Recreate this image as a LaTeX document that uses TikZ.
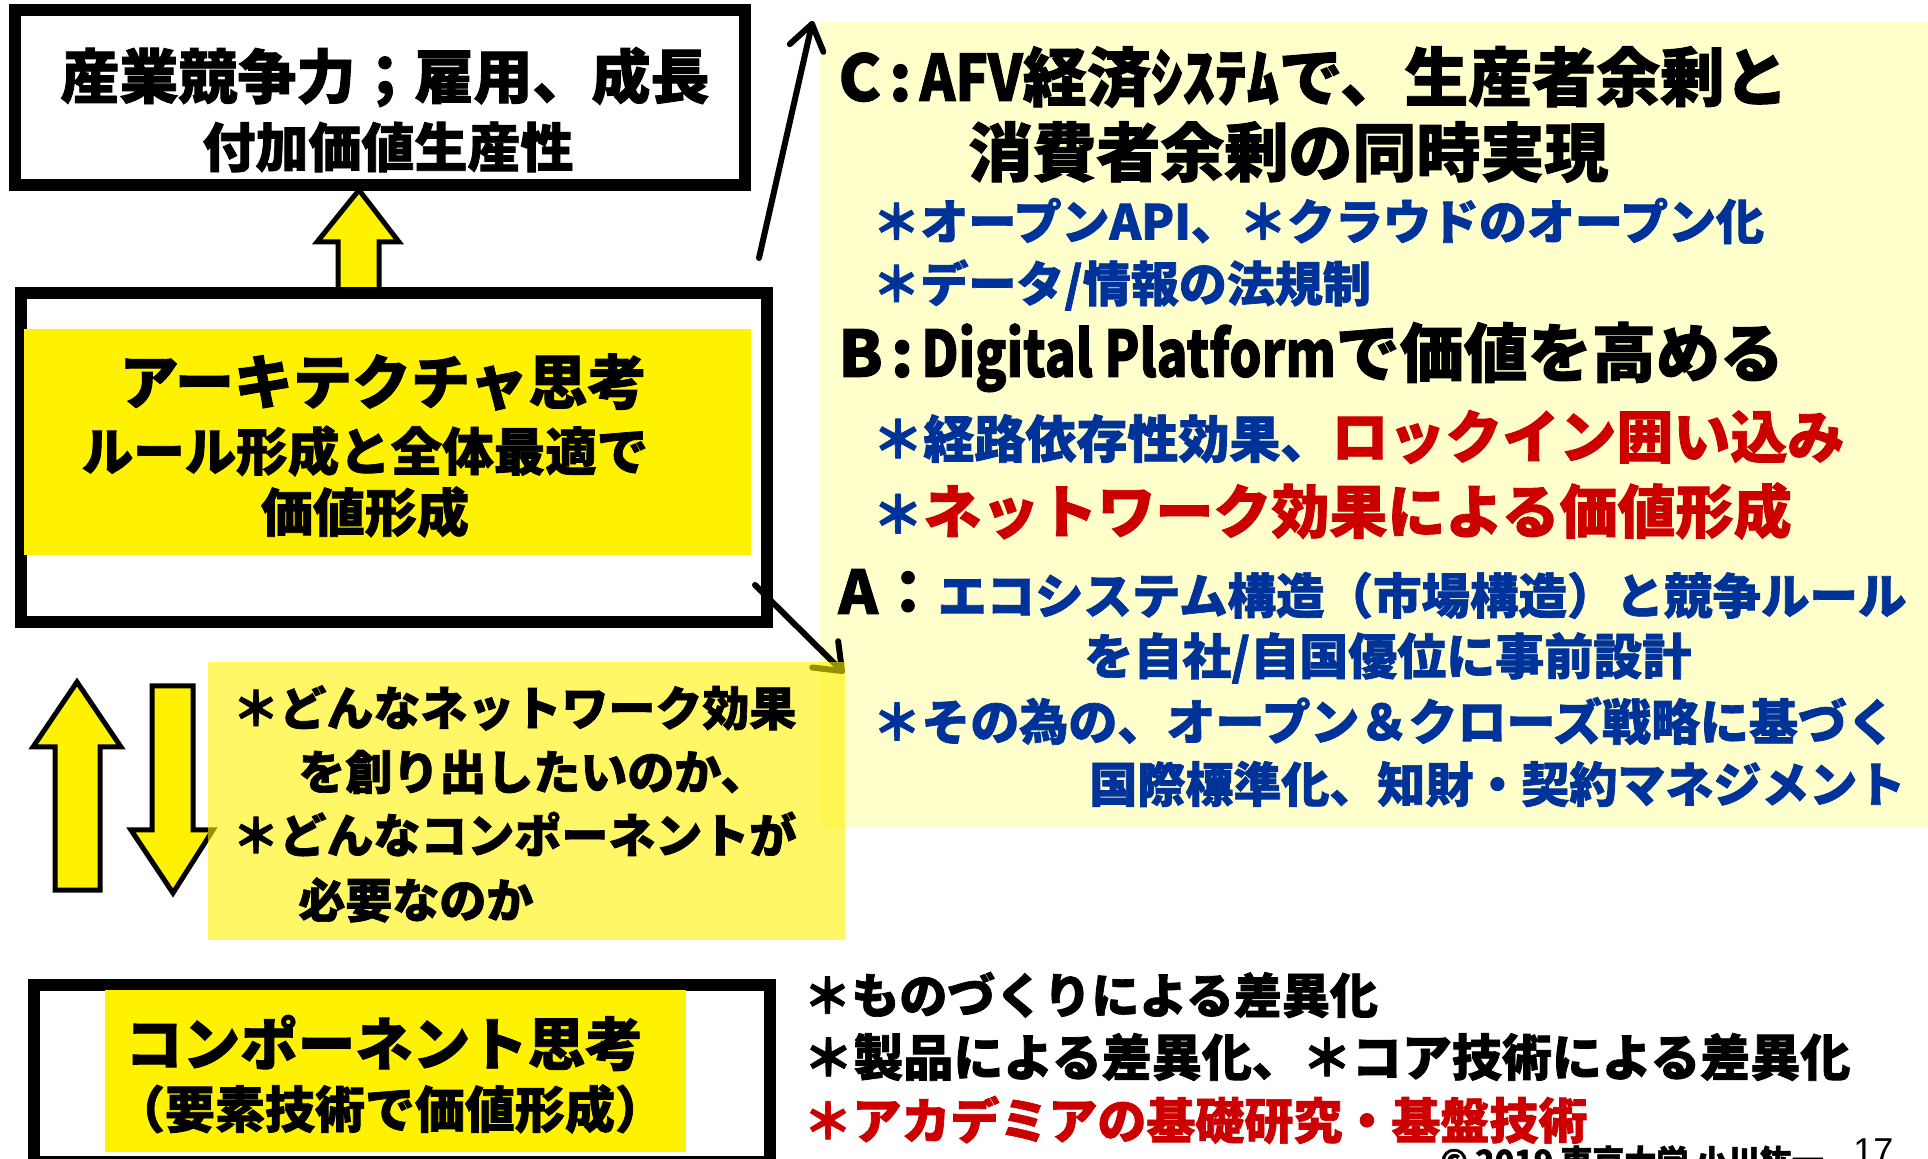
\documentclass[tikz,border=0pt]{standalone}
\usepackage{fontspec}
\usepackage{graphicx}
\usetikzlibrary{calc}
\setmainfont{Noto Sans CJK JP}[BoldFeatures={FakeBold=1.5}]
\newfontfamily\latf{Liberation Sans}
\definecolor{jblue}{RGB}{0,51,153}
\definecolor{jred}{RGB}{204,0,0}
\definecolor{pale}{RGB}{255,255,204}
\newcommand\jfs[1]{\fontsize{#1}{#1}\selectfont}
\begin{document}
\begin{tikzpicture}[x=0.5pt,y=-0.5pt,
  frame/.style={draw=black,line width=6pt,fill=white},
  blockarrow/.style={draw=black,line width=2.5pt,fill=yellow,line join=miter},
  jt/.style={inner sep=0pt,font=\bfseries},
  jl/.style={jt,anchor=west},
  thinline/.style={line width=3pt,line cap=round,line join=round}]
\useasboundingbox (0,0) rectangle (1928,1159);
\clip (0,0) rectangle (1928,1159);
\fill[white] (0,0) rectangle (1928,1159);
% right pale panel
\fill[pale] (820,22) rectangle (1928,828);
% top box
\draw[frame] (15,10) rectangle (745,185);
\node[jt] (t1) at (385,77) {\jfs{29.5pt}産業競争力；雇用、成長};
\node[jt] (t2) at (388,147) {\jfs{26.5pt}付加価値生産性};
% up arrow
\draw[blockarrow] (338,292) -- (338,242) -- (317,242) -- (359,190) -- (399,242) -- (379,242) -- (379,292) -- cycle;
% middle box
\draw[frame] (21,293) rectangle (767,622);
\fill[yellow] (24,329) rectangle (751,555);
\node[jt] (m1) at (383,382) {\jfs{29.5pt}アーキテクチャ思考};
\node[jt] (m2) at (365,451) {\jfs{25.75pt}ルール形成と全体最適で};
\node[jt] (m3) at (365,512) {\jfs{26pt}価値形成};
% connectors
\coordinate (s1) at (759,258);
\coordinate (e1) at (812,24);
\draw[thinline] (s1) -- (e1);
\draw[thinline] ($(e1)!15pt!35:(s1)$) -- (e1) -- ($(e1)!15pt!-35:(s1)$);
\coordinate (s2) at (755,585);
\coordinate (e2) at (842,671);
\draw[thinline] (s2) -- (e2);
\draw[thinline] ($(e2)!15pt!38:(s2)$) -- (e2) -- ($(e2)!15pt!-38:(s2)$);
% left arrows
\draw[blockarrow] (55,890) -- (55,747) -- (33,747) -- (77,682) -- (121,747) -- (100,747) -- (100,890) -- cycle;
\draw[blockarrow] (152,686) -- (152,830) -- (131,830) -- (173,893) -- (213,830) -- (193,830) -- (193,686) -- cycle;
% lower-left question box
\fill[yellow,fill opacity=0.6] (208,662) rectangle (845,940);
\node[jl] (q1) at (232,708) {\jfs{23.5pt}＊どんなネットワーク効果};
\node[jl] (q2) at (298,772) {\jfs{23.5pt}を創り出したいのか、};
\node[jl] (q3) at (232,834) {\jfs{23.5pt}＊どんなコンポーネントが};
\node[jl] (q4) at (298,900) {\jfs{23.5pt}必要なのか};
% bottom box
\draw[frame] (34,985) rectangle (770,1162);
\fill[yellow] (105,990) rectangle (686,1152);
\node[jt] (b1) at (384,1043) {\jfs{28.75pt}コンポーネント思考};
\node[jt] (b2) at (390,1109) {\jfs{25pt}（要素技術で価値形成）};
% right text
\node[jl] (c1) at (838,77) {\jfs{32pt}C\hspace{4pt}:\hspace{4pt}\scalebox{0.85}[1]{AFV}経済ｼｽﾃﾑで、生産者余剰と};
\node[jl] (c2) at (968,152) {\jfs{32pt}消費者余剰の同時実現};
\node[jl,text=jblue] (c3) at (872,221) {\jfs{24pt}＊オープンAPI、＊クラウドのオープン化};
\node[jl,text=jblue] (c4) at (872,285) {\jfs{24pt}＊データ/情報の法規制};
\node[jl] (bb1) at (838,357) {\jfs{32pt}B\hspace{4pt}:\hspace{4pt}\scalebox{0.8}[1]{Digital Platform}で価値を高める};
\node[jl] (bb2) at (872,437) {{\color{jblue}\jfs{25.5pt}＊経路依存性効果、}{\color{jred}\jfs{28.5pt}ロックイン囲い込み}};
\node[jl] (bb3) at (872,511) {{\color{jblue}\jfs{25.5pt}＊}{\color{jred}\jfs{29pt}ネットワーク効果による価値形成}};
\node[jl] (a1) at (838,594) {{\jfs{30pt}A：}{\color{jblue}\jfs{24.25pt}エコシステム構造（市場構造）と競争ルール}};
\node[jl,text=jblue] (a2) at (1084,658) {\jfs{24.5pt}を自社/自国優位に事前設計};
\node[jl,text=jblue] (a3) at (872,721) {\jfs{24.5pt}＊その為の、オープン＆クローズ戦略に基づく};
\node[jl,text=jblue] (a4) at (1089,784) {\jfs{24pt}国際標準化、知財・契約マネジメント};
% bottom right text
\node[jl] (r1) at (803,995) {\jfs{24pt}＊ものづくりによる差異化};
\node[jl] (r2) at (803,1057) {\jfs{25pt}＊製品による差異化、＊コア技術による差異化};
\node[jl,text=jred] (r3) at (803,1120) {\jfs{24.5pt}＊アカデミアの基礎研究・基盤技術};
\node[inner sep=0pt,anchor=base west] (pg) at (1853,1163) {\latf\jfs{18pt}17};
\node[inner sep=0pt,anchor=base west,font=\bfseries] (cp) at (1440,1173) {\jfs{16pt}© 2019 東京大学 小川紘一};
\end{tikzpicture}
\end{document}
